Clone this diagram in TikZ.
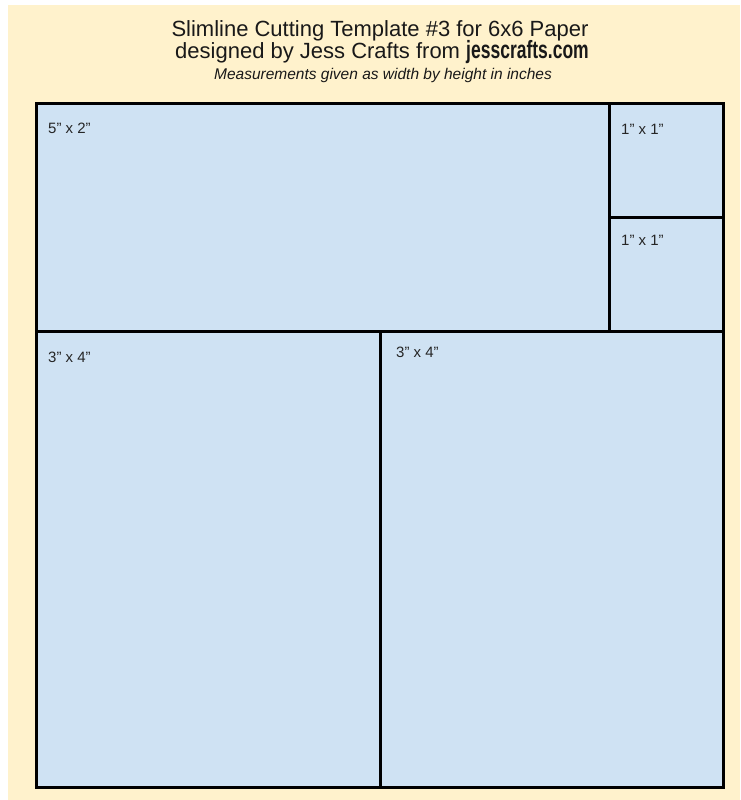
\documentclass[tikz,border=0pt]{standalone}
\usepackage{fontspec}
\setmainfont{Liberation Sans}
\newfontfamily\sitefont[FakeStretch=0.7]{Liberation Sans Bold}
\usepackage{xcolor}
\definecolor{paper}{HTML}{FFF2CC}
\definecolor{cardblue}{HTML}{CFE2F3}
\usetikzlibrary{positioning}

\begin{document}
\begin{tikzpicture}[
    x=1pt, y=-1pt,
    piece/.style={rectangle, draw=black, line width=3pt, fill=cardblue,
                  anchor=north west, inner sep=0pt, outer sep=0pt},
    size/.style={font=\fontsize{15}{18}\selectfont, text=black!85,
                 anchor=base west, inner sep=0pt},
    title/.style={font=\fontsize{22}{26}\selectfont, text=black!90,
                  anchor=base, inner sep=0pt}
]
\useasboundingbox (0,0) rectangle (740,800);
\fill[white] (0,0) rectangle (740,800);
\fill[paper] (8,5) rectangle (740,800);

% heading
\node[title] (head) at (380,37) {Slimline Cutting Template \#3 for 6x6 Paper};
\node[title] (byline) at (382,59) {designed by Jess Crafts from
    {\fontsize{25}{26}\selectfont\sitefont jesscrafts.com}};
\node[title, font=\fontsize{15.5}{18}\selectfont\itshape] (note) at (383,80)
    {Measurements given as width by height in inches};

% pieces of the 6x6 sheet
\node[piece, minimum width=573pt, minimum height=228pt] (wide) at (36.5,103.5) {};
\node[piece, minimum width=114pt, minimum height=114pt] (sqa) at (609.5,103.5) {};
\node[piece, minimum width=114pt, minimum height=114pt] (sqb) at (609.5,217.5) {};
\node[piece, minimum width=343.5pt, minimum height=456pt] (talla) at (36.5,331.5) {};
\node[piece, minimum width=343.5pt, minimum height=456pt] (tallb) at (380,331.5) {};

\node[size] (wide-l) at ([shift={(11.5,29.5)}]wide.north west) {5” x 2”};
\node[size] (sqa-l) at ([shift={(11.5,30.5)}]sqa.north west) {1” x 1”};
\node[size] (sqb-l) at ([shift={(11.5,27.5)}]sqb.north west) {1” x 1”};
\node[size] (talla-l) at ([shift={(11.5,30.5)}]talla.north west) {3” x 4”};
\node[size] (tallb-l) at ([shift={(16,25.5)}]tallb.north west) {3” x 4”};
\end{tikzpicture}
\end{document}
